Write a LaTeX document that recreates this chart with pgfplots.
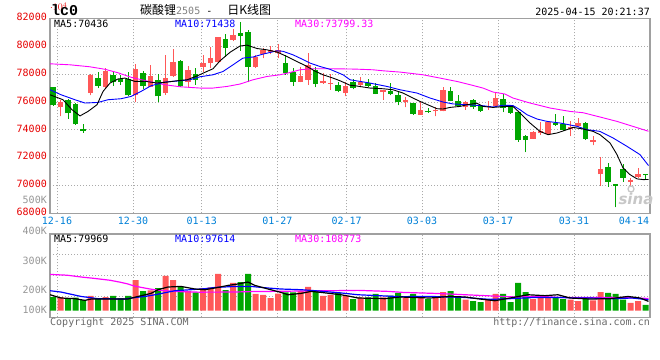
\documentclass[border=0pt]{standalone}
\usepackage{fontspec}
\usepackage{pgfplots}
\pgfplotsset{compat=1.18}
\usepackage{pgfplotstable}
\setmainfont{DejaVu Sans}
\setsansfont{DejaVu Sans}
\setmonofont{DejaVu Sans Mono}
\newfontfamily\cjk{Noto Sans CJK SC}
\newfontfamily\lmono{Liberation Mono}
\definecolor{cred}{RGB}{255,88,88}
\definecolor{cgreen}{RGB}{0,166,0}
\definecolor{labred}{RGB}{230,0,0}
\definecolor{dateblue}{RGB}{0,128,215}
\definecolor{framegray}{RGB}{160,160,160}
\definecolor{gridgray}{RGB}{170,170,170}
\definecolor{vgray}{RGB}{150,150,150}
\definecolor{cpgray}{RGB}{105,105,105}
\definecolor{mablue}{RGB}{0,0,255}
\definecolor{mamag}{RGB}{255,0,255}
\newcommand\mf{\fontsize{10bp}{10bp}\selectfont\ttfamily}

% green days (close < open): index, open, high, low, close, volume (K)
\pgfplotstableread{
i O H L C V
0 77045 77100 75750 75807 122
2 76140 76200 74807 75188 109
3 75878 75950 74350 74403 116
4 74093 74450 73784 73903 95
6 77759 78187 76997 77164 109
8 77949 78187 77164 77473 131
9 77640 77949 77235 77425 109
10 77640 78139 76402 76474 131
12 78068 78235 76926 77164 175
14 77592 77997 75997 76402 202
17 78972 79044 77093 77164 211
19 77997 78473 77235 77592 163
23 80519 80876 79258 79900 184
25 80971 81757 79700 80733 255
26 81043 81150 77425 78544 327
31 78782 79377 77949 78115 163
32 78187 78425 77164 77473 163
35 78306 78544 77068 77306 184
38 77235 77473 76688 76759 163
40 77450 77620 76900 77020 104
42 77354 77640 77045 77164 118
43 77116 77354 76560 76592 149
45 76807 77354 76473 76569 134
46 76521 76759 75759 75974 158
48 75926 75950 75093 75164 149
50 75379 75569 75212 75260 104
53 76807 77068 76045 76093 175
54 76093 76521 75617 75735 118
56 76164 76200 75521 75617 86
57 75688 75700 75300 75331 77
60 76220 76580 75283 75600 149
61 75640 75700 75150 75212 77
62 75283 75300 73141 73237 247
63 73546 73665 72404 73260 166
67 74498 75141 74308 74379 118
68 74450 75022 73903 73974 104
71 74498 74546 73308 73356 118
74 71356 71594 69905 70285 158
75 70095 70100 68429 69976 149
76 71214 71523 70285 70571 98
79 70809 70809 70452 70738 51
}\gtab

% red days (close > open)
\pgfplotstableread{
i O H L C V
1 75617 76164 74974 76021 122
5 76640 77997 76474 77949 131
7 77045 78473 76997 78235 122
11 76474 78734 75997 78401 273
13 77093 78639 77045 77878 181
15 76640 79377 76521 77711 309
16 77901 79805 77830 78901 273
18 77425 78568 77045 78306 175
20 78544 79377 78187 78830 202
21 78782 79972 78425 79187 207
22 78901 80686 78782 80638 327
24 80448 81281 80376 80805 247
27 78544 79377 78473 79210 149
28 79425 79900 79139 79734 140
29 79615 80043 79425 79734 113
30 79496 80139 79139 79734 151
33 77473 78544 77425 77878 175
34 77592 79496 77235 78663 211
36 77354 78115 77306 77544 131
37 77306 77997 76878 77378 140
39 76640 77473 76402 77164 131
41 77235 77830 77068 77425 118
44 76711 76850 76164 76830 118
47 75974 76330 75617 76164 118
49 75093 76045 75093 75450 118
51 75331 75617 74974 75402 118
52 75331 77045 75331 76878 166
55 75617 76093 75450 75974 98
58 75664 76093 75450 75736 98
59 75688 76640 75640 76283 149
64 73379 73903 73356 73832 104
65 73784 74546 73665 73903 118
66 73736 74617 73665 74546 118
69 74070 74617 73546 74212 98
70 74260 74855 74212 74498 86
72 73141 73546 72880 73237 92
73 70809 72070 69976 71166 166
77 70262 70571 69976 70381 69
78 70619 71285 70523 70857 86
}\rtab

\pgfplotsset{
  panel/.style={
    scale only axis, width=600bp, anchor=north west,
    xmin=-0.4, xmax=79.6,
    axis line style={draw=framegray, line width=1.2bp},
    tick style={draw=none},
    grid=major,
    grid style={gridgray, line width=0.8bp, dash pattern=on 1bp off 2bp},
    xtick={0.53,10.67,19.83,29.91,39.16,49.2,59.33,69.47},
  },
  candle/.style 2 args={only marks, mark size=0pt, mark options={draw=none, fill=none}, forget plot,
    error bars/.cd, y dir=plus, y explicit, error mark=none,
    error bar style={draw=#1, line width=#2}},
}

\begin{document}
\begin{tikzpicture}
\useasboundingbox (0,0) rectangle (660bp,-360bp);

% ---------------- price panel ----------------
\begin{axis}[panel, at={(50bp,-18.5bp)}, height=194.9bp,
  ymin=68000, ymax=82000,
  ytick={68000,70000,...,82000},
  yticklabels={68000,70000,72000,74000,76000,78000,80000,82000},
  xticklabels={12-16,12-30,01-13,01-27,02-17,03-03,03-17,03-31},
  extra x ticks={77.47}, extra x tick labels={04-14},
  extra x tick style={grid=none},
  xticklabel style={font=\mf, text=dateblue, anchor=north, inner sep=0pt, yshift=-3.5bp},
  yticklabel style={font=\mf, text=labred, anchor=east, inner sep=0pt, xshift=-3bp, yshift=1.5bp},
]
% wicks
\addplot[candle={cgreen}{1bp}]
  table[x=i, y=L, y error plus expr=\thisrow{H}-\thisrow{L}] {\gtab};
\addplot[candle={cred}{1bp}]
  table[x=i, y=L, y error plus expr=\thisrow{H}-\thisrow{L}] {\rtab};
% bodies
\addplot[candle={cgreen}{5.5bp}]
  table[x=i, y=C, y error plus expr={max(\thisrow{O}-\thisrow{C},70)}] {\gtab};
\addplot[candle={cred}{5.5bp}]
  table[x=i, y=O, y error plus expr={max(\thisrow{C}-\thisrow{O},70)}] {\rtab};
% MA30
\addplot[mamag, line width=0.9bp] coordinates {
(-0.4,78746) (2.27,78674) (4.93,78531) (6.93,78352) (8.67,78101) (10.4,77778)
(12.67,77491) (14.93,77240) (16.93,77097) (19.6,77004) (21.33,77004) (23.2,77119)
(24.93,77291) (26.67,77599) (28.53,77836) (30.27,77957) (31.6,78122) (32.93,78316)
(34.27,78388) (37.33,78388) (40.27,78366) (42.67,78316) (44,78244) (46.27,78151)
(49.33,77957) (51.6,77721) (53.87,77477) (56,77190) (57.33,77004) (58.67,76717)
(60.27,76574) (61.33,76287) (63.6,75928) (66.27,75570) (68.93,75326) (70.67,75233)
(72.93,74925) (75.2,74609) (77.33,74250) (79.4,73900)};
% MA10
\addplot[mablue, line width=0.9bp] coordinates {
(-0.4,76882) (1.07,76523) (2.93,76165) (4.27,75928) (6,75971) (7.33,76165)
(9.07,76237) (10.4,76402) (11.73,76760) (13.07,77169) (14.93,77434) (16.93,77527)
(18.27,77599) (19.6,77814) (21.33,77957) (22.67,78194) (24,78674) (25.33,79155)
(26.67,79234) (28,79442) (29.87,79678) (30.67,79642) (32,79391) (32.93,79155)
(34.27,78796) (35.6,78553) (36.93,78352) (38.67,77957) (39.6,77599) (42.27,77362)
(44.53,77119) (46.27,76882) (48.53,76645) (50.27,76287) (52,76000) (53.33,75864)
(55.2,75806) (57.33,75735) (58.67,75641) (60,75771) (61.33,75749) (62.27,75448)
(63.2,75089) (64.53,74781) (65.87,74609) (67.6,74494) (69.87,74251) (71.2,74014)
(72.93,73892) (74.67,73419) (76.53,72817) (78.27,72221) (79.4,71438)};
% MA5
\addplot[black, line width=0.9bp] coordinates {
(-0.4,76523) (1.33,76165) (2.53,75448) (3.6,75003) (4.67,75326) (5.87,75806)
(6.67,76760) (7.6,77362) (8.67,77656) (9.6,77721) (10.93,77477) (12.27,77491)
(13.87,77362) (15.2,77434) (16.53,77527) (17.87,77599) (19.2,77871) (20.27,78137)
(21.33,78388) (22.27,78961) (23.6,79571) (24.93,80022) (25.87,80087) (27.2,79843)
(28.53,79750) (29.87,79592) (31.2,79270) (32.53,78911) (33.87,78553) (34.93,78223)
(36,77957) (37.33,77721) (38.27,77527) (39.6,77205) (40.27,77169) (42.27,77004)
(44,76954) (45.33,76882) (46.67,76645) (48,76287) (48.93,76043) (50.27,75735)
(51.2,75520) (52,75498) (52.93,75613) (54.27,75685) (55.2,75806) (56.53,75914)
(57.33,75685) (58.67,75613) (60.27,75685) (61.33,75685) (62.27,75211) (63.6,74494)
(64.93,73892) (66,73655) (67.2,73777) (68.53,74014) (69.33,74179) (70.67,74064)
(72,73892) (72.93,73655) (74.27,73060) (75.2,72221) (76,71268) (76.93,70787)
(77.87,70479) (78.67,70429) (79.4,70436)};
\end{axis}

% ---------------- volume panel ----------------
\begin{axis}[panel, at={(50bp,-234bp)}, height=83.3bp,
  ymin=-58.7, ymax=682.6,
  ytick={128,311.5,498.4},
  xticklabels={,,,,,,,}, yticklabels={,,},
]
\addplot[ybar, bar width=6bp, bar shift=0pt, fill=cgreen, draw=none, forget plot]
  table[x=i, y=V] {\gtab};
\addplot[ybar, bar width=6bp, bar shift=0pt, fill=cred, draw=none, forget plot]
  table[x=i, y=V] {\rtab};
\addplot[mamag, line width=1.2bp] coordinates {
(-0.4,323) (1.87,316) (4,298) (5.33,289) (7.6,271) (8.93,254) (9.87,240) (10.93,218)
(12.93,193) (14.27,181) (17.07,169) (19.6,165) (24,166) (26.93,171) (29.6,172)
(32.67,175) (36.93,178) (40.67,181) (44.67,172) (46.67,163) (50.93,154) (54,145)
(57.6,134) (61.6,122) (64.93,127) (67.6,118) (75.6,118) (79.4,109)};
\addplot[mablue, line width=1.2bp] coordinates {
(-0.4,178) (1.07,166) (3.73,127) (6,107) (9.6,104) (10.4,113) (12.27,127) (13.6,142)
(16.27,178) (18.4,187) (20.27,196) (21.6,207) (24.27,216) (26.4,216) (28.67,202)
(30.4,193) (33.07,187) (34.93,178) (38.4,158) (40.67,142) (43.33,134) (46.27,125)
(50.27,127) (54.93,118) (56.93,107) (58.27,101) (60.93,107) (64.27,118) (67.6,118)
(69.6,113) (71.6,113) (74.67,107) (77.2,113) (79.4,98)};
\addplot[black, line width=1.2bp] coordinates {
(-0.4,142) (1.07,113) (2.93,107) (4.27,92) (5.07,104) (10,104) (11.33,127) (13.07,154)
(14,187) (15.33,211) (17.07,216) (18.93,193) (20.27,187) (22,207) (23.33,225)
(24.67,238) (26,255) (26.93,225) (28.67,193) (30.4,163) (31.33,142) (33.07,154)
(34.4,172) (35.73,163) (38.4,142) (39.33,131) (40.67,113) (44.27,107) (46.27,122)
(50.27,113) (52.93,127) (54.93,122) (56.93,104) (58.93,89) (60.93,113) (63.33,142)
(65.6,134) (67.33,142) (68.93,113) (71.6,104) (74.27,107) (76.67,127) (78.27,113)
(79.4,83)};
\end{axis}

% ---------------- texts ----------------
\node[anchor=west, inner sep=0pt, font=\fontsize{15bp}{15bp}\selectfont\lmono\bfseries] at (51bp,-10.5bp) {lc0};
\node[anchor=west, inner sep=0pt] at (140bp,-9.5bp)
  {\fontsize{12bp}{12bp}\selectfont\cjk 碳酸锂{\mf\color{gray}2505\color{black}\ -\ }\hspace{9bp}日K线图};
\node[anchor=east, inner sep=0pt, font=\mf] at (650bp,-12bp) {2025-04-15 20:21:37};

\node[anchor=west, inner sep=0pt, font=\mf] at (54bp,-23.7bp) {MA5:70436};
\node[anchor=west, inner sep=0pt, font=\mf, text=mablue] at (175bp,-23.7bp) {MA10:71438};
\node[anchor=west, inner sep=0pt, font=\mf, text=mamag] at (295bp,-23.7bp) {MA30:73799.33};

\node[anchor=east, inner sep=0pt, font=\mf, text=vgray] at (47bp,-200bp) {500K};
\node[anchor=east, inner sep=0pt, font=\mf, text=vgray] at (47bp,-230.7bp) {400K};
\node[anchor=east, inner sep=0pt, font=\mf, text=vgray] at (47bp,-261bp) {300K};
\node[anchor=east, inner sep=0pt, font=\mf, text=vgray] at (47bp,-290.3bp) {200K};
\node[anchor=east, inner sep=0pt, font=\mf, text=vgray] at (47bp,-310.3bp) {100K};

\node[anchor=west, inner sep=0pt, font=\mf] at (54bp,-238.5bp) {MA5:79969};
\node[anchor=west, inner sep=0pt, font=\mf, text=mablue] at (175bp,-238.5bp) {MA10:97614};
\node[anchor=west, inner sep=0pt, font=\mf, text=mamag] at (295bp,-238.5bp) {MA30:108773};

\node[anchor=west, inner sep=0pt, font=\mf, text=cpgray] at (50bp,-323bp) {Copyright 2025 SINA.COM};
\node[anchor=east, inner sep=0pt, font=\mf, text=cpgray] at (650bp,-323bp) {http://finance.sina.com.cn};

\node[inner sep=0pt, font=\fontsize{15bp}{15bp}\selectfont\sffamily\bfseries\itshape, text=black!22] at (636bp,-199bp) {sina};
\draw[black!22, line width=1.3bp] (631bp,-189bp) circle (3bp);
\end{tikzpicture}
\end{document}
